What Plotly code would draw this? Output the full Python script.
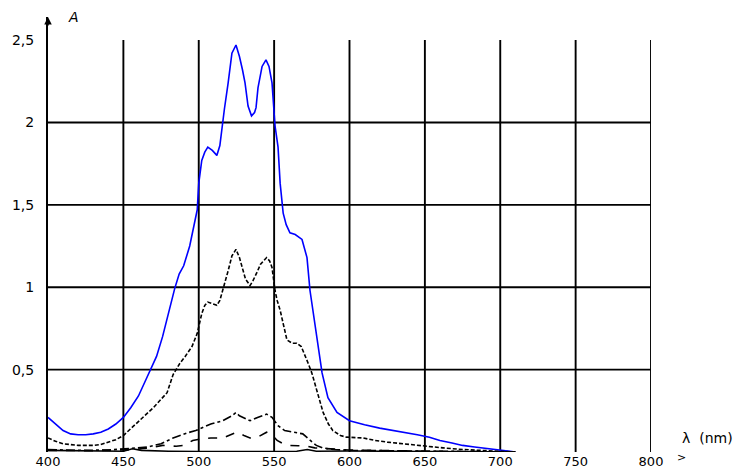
import plotly.graph_objects as go

# Absorption spectra A(λ) — five solutions, wavelength in nm
wl_1 = [400, 405, 410, 415, 420, 425, 430, 435, 440, 445, 450, 455, 460, 465, 468,
        472, 476, 480, 484, 487, 490, 494, 497, 499, 500, 502, 504, 506, 509, 512,
        514, 515, 517, 519.5, 522, 524.7, 527, 529, 530.7, 532.7, 535, 537, 538,
        539.3, 542, 544.6, 546.6, 548.6, 550, 550.6, 552.6, 554, 556, 558, 560.5,
        564, 568.5, 571.8, 573.8, 576, 579, 581.8, 585.7, 591.7, 600, 610, 620,
        630, 638, 645, 653, 660, 668, 675, 683, 691, 700, 710]
a_1 = [0.21, 0.17, 0.13, 0.11, 0.105, 0.105, 0.11, 0.12, 0.14, 0.17, 0.21, 0.27,
       0.34, 0.44, 0.50, 0.58, 0.70, 0.85, 0.99, 1.08, 1.13, 1.25, 1.38, 1.47,
       1.63, 1.77, 1.82, 1.85, 1.83, 1.80, 1.86, 1.94, 2.08, 2.24, 2.42, 2.47,
       2.40, 2.32, 2.24, 2.10, 2.04, 2.06, 2.09, 2.21, 2.34, 2.38, 2.34, 2.24,
       2.06, 1.98, 1.85, 1.63, 1.45, 1.38, 1.33, 1.32, 1.29, 1.18, 0.98, 0.84,
       0.66, 0.48, 0.33, 0.24, 0.19, 0.165, 0.145, 0.13, 0.12, 0.105, 0.09,
       0.07, 0.055, 0.04, 0.03, 0.02, 0.01, 0.0]

wl_2 = [400, 405, 410, 415, 420, 425, 430, 435, 440, 445, 450, 456, 463, 470, 475,
        479, 483, 487.6, 491, 495.5, 499, 500, 502, 504, 506, 509, 512, 514, 516,
        519.5, 522, 524.7, 527, 528.7, 531, 534, 536, 538.6, 541, 545, 547, 548.6,
        550.6, 552, 554, 556, 558.5, 562, 565, 568, 570, 572.5, 575, 578.5, 582.5,
        586, 589, 594, 598, 609, 617, 625, 635, 645, 653, 662, 675, 690, 700, 710]
a_2 = [0.085, 0.065, 0.05, 0.045, 0.04, 0.04, 0.04, 0.045, 0.06, 0.075, 0.10,
       0.15, 0.21, 0.27, 0.32, 0.36, 0.47, 0.54, 0.58, 0.64, 0.72, 0.76, 0.84,
       0.89, 0.91, 0.90, 0.89, 0.92, 0.98, 1.10, 1.19, 1.23, 1.18, 1.12, 1.05,
       1.01, 1.04, 1.09, 1.14, 1.18, 1.16, 1.12, 0.98, 0.92, 0.86, 0.78, 0.68,
       0.66, 0.66, 0.64, 0.60, 0.54, 0.48, 0.36, 0.24, 0.17, 0.13, 0.10, 0.09,
       0.085, 0.07, 0.06, 0.05, 0.04, 0.035, 0.025, 0.015, 0.008, 0.004, 0.0]

wl_3 = [400, 420, 440, 455, 466, 475, 483, 492, 498, 503, 508, 512, 516, 522,
        524.7, 527, 531, 534, 539, 545, 548.6, 552.6, 557, 562, 566, 569, 574,
        578, 582, 590, 600, 650, 710]
a_3 = [0.015, 0.01, 0.012, 0.02, 0.03, 0.05, 0.085, 0.115, 0.13, 0.15, 0.17,
       0.18, 0.19, 0.22, 0.24, 0.22, 0.20, 0.19, 0.21, 0.23, 0.21, 0.16, 0.13,
       0.12, 0.115, 0.11, 0.07, 0.04, 0.025, 0.015, 0.01, 0.005, 0.0]

wl_4 = [400, 430, 455, 468, 476, 485, 490, 496, 502, 508, 516, 520, 525, 530,
        534, 539, 545, 549, 552, 556, 560, 566, 572, 577, 585, 600, 650, 710]
a_4 = [0.01, 0.008, 0.015, 0.025, 0.04, 0.035, 0.04, 0.07, 0.08, 0.085, 0.085,
       0.10, 0.12, 0.10, 0.085, 0.09, 0.12, 0.10, 0.07, 0.05, 0.04, 0.038,
       0.035, 0.025, 0.02, 0.012, 0.005, 0.0]

wl_5 = [400, 420, 440, 450, 456, 462, 480, 500, 550, 565, 572, 578, 600, 650,
        700, 710]
a_5 = [0.01, 0.008, 0.008, 0.005, 0.02, 0.01, 0.005, 0.003, 0.003, 0.005,
       0.015, 0.005, 0.006, 0.004, 0.002, 0.0]

x_ticks = [400, 450, 500, 550, 600, 650, 700, 750, 800]
x_labels = ["400", "450", "500", "550", "600", "650", "700", "750", "800"]
y_ticks = [0.5, 1, 1.5, 2, 2.5]
y_labels = ["0,5", "1", "1,5", "2", "2,5"]
x_grid = [450, 500, 550, 600, 650, 700, 750, 800]
y_grid = [0.5, 1, 1.5, 2]

series = [
    (wl_1, a_1, "#0000ff", "solid"),
    (wl_2, a_2, "#000000", "4px,2px"),
    (wl_3, a_3, "#000000", "dashdot"),
    (wl_4, a_4, "#000000", "dash"),
    (wl_5, a_5, "#000000", "solid"),
]

fig = go.Figure()
for wl, a, color, dash in series:
    fig.add_trace(go.Scatter(x=wl, y=a, mode="lines",
                             line=dict(color=color, width=1.6, dash=dash),
                             showlegend=False, hoverinfo="skip"))

grid_line = dict(color="black", width=1.9)
shapes = []
for gx in x_grid:
    shapes.append(dict(type="line", xref="x", yref="y", x0=gx, x1=gx,
                       y0=0, y1=2.5, line=grid_line, layer="below"))
for gy in y_grid:
    shapes.append(dict(type="line", xref="x", yref="y", x0=400, x1=800,
                       y0=gy, y1=gy, line=grid_line, layer="below"))

font = dict(family="DejaVu Sans", size=14, color="black")
xfont = dict(family="DejaVu Sans", size=13, color="black")

fig.update_layout(
    width=739, height=472,
    margin=dict(l=48, r=88, t=17, b=20, autoexpand=False),
    paper_bgcolor="white", plot_bgcolor="white",
    font=font,
    shapes=shapes,
    xaxis=dict(range=[400, 800], tickvals=x_ticks, ticktext=x_labels,
               showgrid=False, zeroline=False, showline=False, automargin=False,
               ticks="", tickfont=xfont),
    yaxis=dict(range=[0, 2.64], tickvals=y_ticks, ticktext=y_labels,
               showgrid=False, zeroline=False, showline=True, automargin=False,
               linecolor="black", linewidth=2,
               ticks="outside", ticklen=9, tickcolor="rgba(0,0,0,0)",
               tickfont=font),
    annotations=[
        # arrow tip on the A axis
        dict(x=400, y=2.64, xref="x", yref="y", ax=0, ay=10,
             axref="pixel", ayref="pixel", showarrow=True,
             arrowhead=2, arrowsize=1, arrowwidth=1.5, arrowcolor="black", text=""),
        dict(x=400, y=2.64, xref="x", yref="y", xshift=25, yshift=0,
             text="<i>A</i>", showarrow=False, font=font,
             xanchor="center", yanchor="middle"),
        dict(x=1.093, y=0.033, xref="paper", yref="paper",
             text="λ  (nm)", showarrow=False, font=font,
             xanchor="center", yanchor="middle"),
        dict(x=1.05, y=-0.012, xref="paper", yref="paper",
             text=">", showarrow=False, font=dict(family="DejaVu Sans", size=11, color="black"),
             xanchor="center", yanchor="middle"),
    ],
)

fig.write_html("out.html")
